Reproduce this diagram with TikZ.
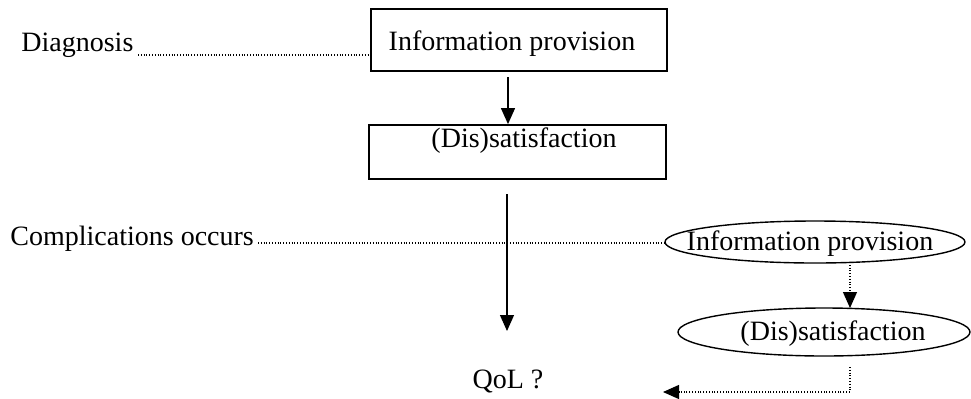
\documentclass[tikz,border=0pt]{standalone}
\usepackage{fontspec}
\setmainfont{Liberation Serif}
\usetikzlibrary{arrows.meta,shapes.geometric}
\tikzset{
  every node/.style={font=\fontsize{14}{16}\selectfont, inner sep=0pt},
  boxnode/.style={draw, line width=0.9pt, rectangle},
  ellnode/.style={draw, line width=0.7pt, ellipse},
  txt/.style={anchor=base},
  arr/.style={line width=0.6pt, -{Triangle[width=7pt,length=8pt]}},
  dotline/.style={line width=0.6pt, dash pattern=on 0.5pt off 0.9pt},
  dotarr/.style={dotline, -{Triangle[width=7pt,length=8pt]}},
}
\begin{document}
\begin{tikzpicture}[x=0.5pt,y=-0.5pt]
\useasboundingbox (0,0) rectangle (971,398);
% boxes
\node[boxnode, minimum width=148pt, minimum height=31pt] (b1) at (519,40) {};
\node[txt] (t1) at (512,50) {Information provision};
\node[boxnode, minimum width=148.5pt, minimum height=27pt] (b2) at (517.5,152) {};
\node[txt] (t2) at (524,147) {(Dis)satisfaction};
% left labels
\node[anchor=base west] (diag) at (21,51) {Diagnosis};
\node[anchor=base west] (comp) at (10,245) {Complications occurs};
% QoL
\node[txt] (qol) at (508,388) {QoL ?};
% ellipses
\node[ellnode, minimum width=150pt, minimum height=21pt] (e1) at (815,242) {};
\node[txt] (te1) at (810,250) {Information provision};
\node[ellnode, minimum width=146pt, minimum height=24pt] (e2) at (824,332) {};
\node[txt] (te2) at (833,340) {(Dis)satisfaction};
% coordinates
\coordinate (a1s) at (508,77);
\coordinate (a2s) at (507,194);
\coordinate (a2e) at (507,331);
\coordinate (d1s) at (138,55);
\coordinate (c1s) at (258,243);
\coordinate (e1s) at (850,262);
\coordinate (e2n) at (850,308);
\coordinate (e2s) at (850,367);
\coordinate (bend) at (850,392);
\coordinate (qe) at (663,392);
% connectors
\draw[arr] (a1s) -- (a1s |- b2.north);
\draw[arr] (a2s) -- (a2e);
\draw[dotline] (d1s) -- (d1s -| b1.west);
\draw[dotline] (c1s) -- (c1s -| e1.west);
\draw[dotarr] (e1s) -- (e2n);
\draw[dotarr] (e2s) -- (bend) -- (qe);
\end{tikzpicture}
\end{document}
